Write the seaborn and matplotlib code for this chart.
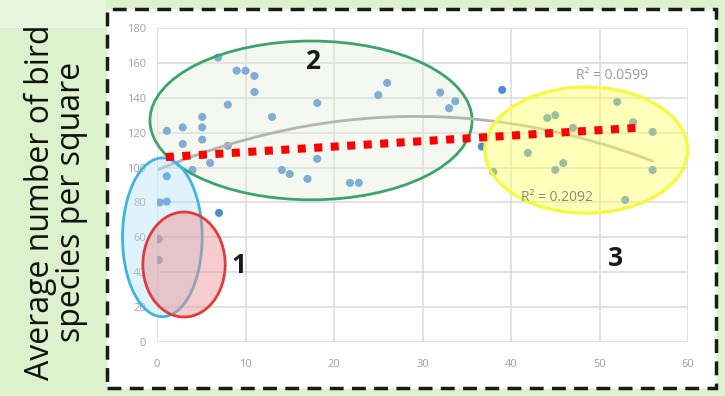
import numpy as np
import pandas as pd
import seaborn as sns
import matplotlib.pyplot as plt
from matplotlib.patches import Ellipse, Rectangle

# Survey squares: x value and average number of bird species recorded
x_values = [0.2, 0.2, 0.3, 1.1, 7.0, 1.1, 1.1, 2.9, 2.9, 5.1, 5.1, 5.1, 4.0, 6.0,
            8.0, 8.0, 6.9, 9.0, 10.0, 11.0, 11.0, 13.0, 14.1, 15.0, 17.0, 18.1,
            18.1, 21.8, 22.8, 25.0, 26.0, 32.0, 33.7, 33.0, 39.0, 36.7, 38.0,
            41.9, 44.1, 45.0, 47.0, 45.9, 45.0, 52.0, 53.8, 56.0, 56.0, 52.9]
species = [47, 59, 80, 80.5, 74, 95, 121, 123, 113.5, 129, 123, 116, 98.6, 102.6,
           112.4, 136, 163, 155.5, 155.5, 152.5, 143.3, 129, 98.6, 96.3, 93.5, 105,
           137, 91.2, 91.2, 141.5, 148.5, 143, 138, 134, 144.5, 112, 97.5,
           108.4, 128.4, 130, 122.7, 102.6, 98.6, 137.6, 126, 120.4, 98.6, 81.4]

x_ticks = [0, 10, 20, 30, 40, 50, 60]
y_ticks = [0, 20, 40, 60, 80, 100, 120, 140, 160, 180]

# Hand-drawn overall trend (red dotted)
trend_x = [1, 55]
trend_y = [106, 123]

r2_text = ["R\u00b2 = 0.0599", "R\u00b2 = 0.2092"]
group_names = ["1", "2", "3"]
y_label = "Average number of bird\nspecies per square"

df = pd.DataFrame({"x": x_values, "species": species})

sns.set_theme(style="white")
plt.rcParams["font.family"] = ["Open Sans", "DejaVu Sans"]

fig = plt.figure(figsize=(7.25, 3.96), dpi=100, facecolor="#dcf2cd")

# lighter band across the top-left corner
fig.patches.append(Rectangle((0, 0.93), 0.146, 0.07, transform=fig.transFigure,
                             facecolor="#e8f6df", edgecolor="none", zorder=-2))
# white chart panel with dashed black frame
fig.patches.append(Rectangle((0.147, 0.021), 0.841, 0.956, transform=fig.transFigure,
                             facecolor="white", edgecolor="#1a1a1a", linewidth=2.5,
                             linestyle=(0, (4, 2.4)), zorder=-1))

ax = fig.add_axes([0.2166, 0.1364, 0.7324, 0.793])
ax.set_zorder(2)
ax.set_facecolor("none")

sns.scatterplot(data=df, x="x", y="species", ax=ax, color="#4a8ed0", s=34,
                edgecolor="none", zorder=3, legend=False)

# polynomial trend of all squares
sns.regplot(data=df, x="x", y="species", ax=ax, order=2, ci=None, scatter=False,
            line_kws=dict(color="#b3b3b3", linewidth=2, zorder=5))

# cluster outlines
ax.add_patch(Ellipse((17.4, 127), 36.4, 91, facecolor="#e2ebd5", alpha=0.35,
                     edgecolor="none", zorder=4, clip_on=False))
ax.add_patch(Ellipse((17.4, 127), 36.4, 91, facecolor="none",
                     edgecolor="#3aa56a", linewidth=2, zorder=4.1, clip_on=False))
ax.add_patch(Ellipse((48.5, 110), 22.9, 72.3, facecolor="#ffff66", alpha=0.45,
                     edgecolor="none", zorder=6, clip_on=False))
ax.add_patch(Ellipse((48.5, 110), 22.9, 72.3, facecolor="none",
                     edgecolor="#f7f745", linewidth=2.4, zorder=6.1, clip_on=False))
ax.add_patch(Ellipse((0.6, 60), 9.0, 91, facecolor="#b3e0f6", alpha=0.4,
                     edgecolor="none", zorder=6, clip_on=False))
ax.add_patch(Ellipse((0.6, 60), 9.0, 91, facecolor="none",
                     edgecolor="#3fb4e4", linewidth=2, zorder=6.1, clip_on=False))
ax.add_patch(Ellipse((3.05, 44.4), 9.3, 60.2, facecolor="#ee8f8f", alpha=0.45,
                     edgecolor="none", zorder=6.2, clip_on=False))
ax.add_patch(Ellipse((3.05, 44.4), 9.3, 60.2, facecolor="none",
                     edgecolor="#e23b3b", linewidth=2, zorder=6.3, clip_on=False))

ax.plot(trend_x, trend_y, color="#ff0000", linewidth=5.8, linestyle=(0, (1, 1.05)),
        dash_capstyle="butt", zorder=8)

ax.text(51.4, 153, r2_text[0], color="#9a9a9a", fontsize=10, ha="center",
        va="center", zorder=7)
ax.text(45.2, 82.6, r2_text[1], color="#8a8a7a", fontsize=10, ha="center",
        va="center", zorder=7)

ax.text(9.3, 44, group_names[0], fontsize=19, fontweight="bold", color="#1a1a1a",
        ha="center", va="center", zorder=9)
ax.text(17.6, 161, group_names[1], fontsize=19, fontweight="bold", color="#1a1a1a",
        ha="center", va="center", zorder=9)
ax.text(51.8, 48, group_names[2], fontsize=19, fontweight="bold", color="#1a1a1a",
        ha="center", va="center", zorder=9)

ax.set_xlim(0, 60)
ax.set_ylim(0, 180)
ax.set_xticks(x_ticks)
ax.set_yticks(y_ticks)
ax.set_xlabel("")
ax.set_ylabel("")
ax.grid(True, color="#dadada", linewidth=1.1, zorder=0)
ax.set_axisbelow(True)
for s in ax.spines.values():
    s.set_visible(False)
ax.tick_params(axis="both", length=0, labelsize=8, labelcolor="#a0a0a0")
ax.tick_params(axis="x", pad=12)
ax.tick_params(axis="y", pad=8)

fig.text(0.077, 0.49, y_label, rotation=90, ha="center", va="center",
         fontsize=23, color="#111111", linespacing=0.95)

fig.savefig("out.png", dpi=100, facecolor=fig.get_facecolor())
